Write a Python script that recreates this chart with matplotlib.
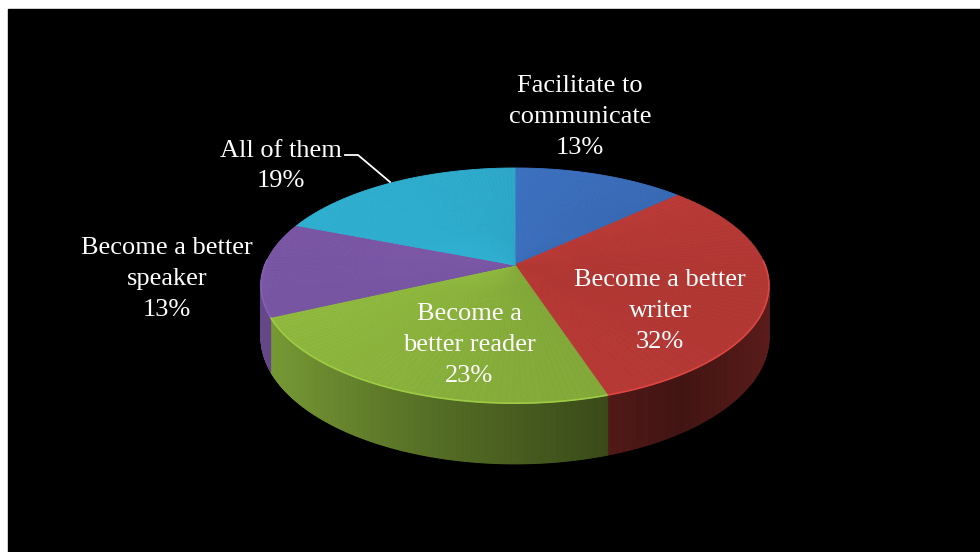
import numpy as np
import matplotlib.pyplot as plt
from matplotlib.patches import Polygon, Rectangle
from matplotlib.colors import to_rgb

labels = ["Facilitate to\ncommunicate", "Become a better\nwriter", "Become a\nbetter reader",
          "Become a better\nspeaker", "All of them"]
shares = [13, 32, 23, 13, 19]
colors = ["#3d72c2", "#c63e3a", "#8db63e", "#7654a0", "#2ea9c9"]
label_xy = [(580, 117), (660, 311), (469, 345), (167, 279), (281, 166)]

# pie geometry (pixels), simple perspective
cx, cy = 515, 265
a, b, p = 250, 114, 0.175
depth = 50


def project(theta, r=1.0):
    u = r * np.cos(theta)
    v = r * np.sin(theta)
    w = 1 + p * v
    return cx + a * u / w, cy - b * v / w, w


def shade(c, f):
    return tuple(min(1, max(0, ch * f)) for ch in to_rgb(c))


def side_factor(x):
    # light from the left, darkest a bit right of centre
    return np.interp(x, [262, 420, 680, 768], [0.85, 0.62, 0.33, 0.45])


fig = plt.figure(figsize=(9.8, 5.52), dpi=100)
fig.patch.set_facecolor("white")
ax = fig.add_axes([0, 0, 1, 1])
ax.set_xlim(0, 980)
ax.set_ylim(552, 0)
ax.axis("off")
ax.add_patch(Rectangle((8, 9), 972, 543, color="black", zorder=0))

# slice angles: start at 12 o'clock, clockwise
fr = np.array(shares) / sum(shares)
ends = np.pi / 2 - 2 * np.pi * np.cumsum(fr)
starts = np.concatenate([[np.pi / 2], ends[:-1]])

# side walls (front half only)
for s, e, col in zip(starts, ends, colors):
    ts = np.linspace(s, e, 200)
    for t1, t2 in zip(ts[:-1], ts[1:]):
        if np.sin(t1) > 0.05 and np.sin(t2) > 0.05:
            continue
        x1, y1, w1 = project(t1)
        x2, y2, w2 = project(t2)
        f = side_factor((x1 + x2) / 2)
        ax.add_patch(Polygon([(x1, y1), (x2, y2), (x2, y2 + depth / w2), (x1, y1 + depth / w1)],
                             closed=True, facecolor=shade(col, f), edgecolor=shade(col, f),
                             lw=0.8, zorder=2))

# top faces
for s, e, col in zip(starts, ends, colors):
    ts = np.linspace(s, e, 60)
    for t1, t2 in zip(ts[:-1], ts[1:]):
        x1, y1, _ = project(t1)
        x2, y2, _ = project(t2)
        tm = (t1 + t2) / 2
        f = 0.97 + 0.07 * np.cos(tm - np.deg2rad(160))
        ax.add_patch(Polygon([(cx, cy), (x1, y1), (x2, y2)], closed=True,
                             facecolor=shade(col, f), edgecolor=shade(col, f), lw=0.6, zorder=3))
    # light rim on the front edge
    tf = ts[np.sin(ts) < 0.05]
    if len(tf) > 1:
        xs, ys, _ = project(tf)
        ax.plot(xs, ys, color=shade(col, 1.12), lw=1.2, zorder=4, solid_capstyle="butt")

# labels
for lab, sh, (lx, ly) in zip(labels, shares, label_xy):
    ax.text(lx, ly, f"{lab}\n{sh}%", color="white", ha="center", va="center",
            family="Liberation Serif", fontsize=19, linespacing=1.52, zorder=6)

# leader line for "All of them"
ax.plot([345, 358, 390], [155, 155, 182], color="white", lw=1.3, zorder=5)

fig.savefig("out.png", dpi=100, facecolor=fig.get_facecolor())
